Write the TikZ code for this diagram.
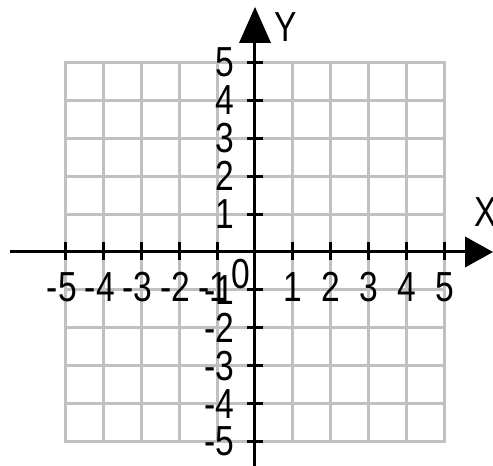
\documentclass[tikz,border=0pt]{standalone}
\usepackage{fontspec}
\setmainfont{Liberation Sans}
\definecolor{gridgray}{RGB}{192,192,192}
\begin{document}
\begin{tikzpicture}[x=0.5pt,y=0.5pt,
  gridline/.style={draw=gridgray, line width=1.5pt, line cap=rect},
  axisline/.style={draw=black, line width=1.5pt},
  lbl/.style={font=\fontsize{21}{21}\selectfont, inner sep=0pt, xscale=0.8}]
\useasboundingbox (-255,-214) rectangle (238,252);
\fill[white] (-255,-214) rectangle (238,252);
% grid
\foreach \i in {-5,...,5} {
  \draw[gridline] (\i*37.9,-189.5) -- (\i*37.9,189.5);
  \draw[gridline] (-189.5,\i*37.9) -- (189.5,\i*37.9);
}
% axes
\coordinate (xl) at (-245,0);
\coordinate (xr) at (212,0);
\coordinate (yb) at (0,-214);
\coordinate (yt) at (0,211);
\draw[axisline] (xl) -- (xr);
\fill[black] (210,15.5) -- (238,0) -- (210,-15.5) -- cycle;
\draw[axisline] (yb) -- (yt);
\fill[black] (-16,209) -- (0,245) -- (16,209) -- cycle;
% ticks
\foreach \i in {-5,-4,-3,-2,-1,1,2,3,4,5} {
  \draw[axisline] (\i*37.9,-8) -- (\i*37.9,10);
  \draw[axisline] (-8,\i*37.9) -- (8,\i*37.9);
}
% x labels
\foreach \i in {1,...,5} {
  \node[lbl] (xp\i) at (\i*37.9,-35) {\i};
  \node[lbl] (xn\i) at (-\i*37.9+2,-35) {\llap{-}\i};
}
% y labels
\foreach \i in {1,...,5} {
  \node[lbl, anchor=east] (yp\i) at (-20,\i*37.9) {\i};
  \node[lbl, anchor=east] (yn\i) at (-20,-\i*37.9) {-\i};
}
\node[lbl] (zero) at (-14,-22) {0};
\node[lbl] (xlab) at (231,40) {X};
\node[lbl] (ylab) at (31,225) {Y};
\end{tikzpicture}
\end{document}
